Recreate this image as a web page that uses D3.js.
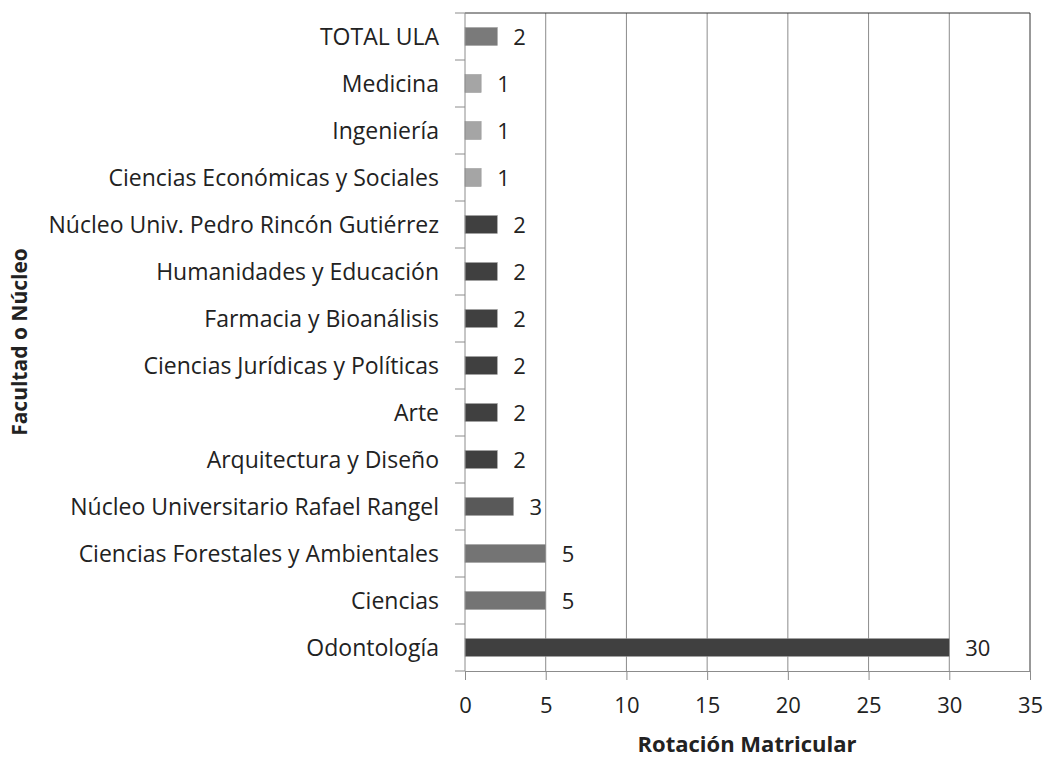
<!DOCTYPE html>
<html>
<head>
<meta charset="utf-8">
<script src="https://cdn.jsdelivr.net/npm/d3@7"></script>
<style>
  body { margin: 0; background: #fff; }
  text { font-family: "Open Sans", sans-serif; fill: #222; }
</style>
</head>
<body>
<div id="chart"></div>
<script>
// categories top -> bottom
const categories = [
  "TOTAL ULA", "Medicina", "Ingeniería", "Ciencias Económicas y Sociales",
  "Núcleo Univ. Pedro Rincón Gutiérrez", "Humanidades y Educación",
  "Farmacia y Bioanálisis", "Ciencias Jurídicas y Políticas", "Arte",
  "Arquitectura y Diseño", "Núcleo Universitario Rafael Rangel",
  "Ciencias Forestales y Ambientales", "Ciencias", "Odontología"
];
const values = [2, 1, 1, 1, 2, 2, 2, 2, 2, 2, 3, 5, 5, 30];
const barColors = [
  "#7a7a7a", "#a5a5a5", "#a5a5a5", "#a5a5a5",
  "#404040", "#404040", "#404040", "#404040", "#404040", "#404040",
  "#595959", "#747474", "#747474", "#404040"
];
const xTicks = [0, 5, 10, 15, 20, 25, 30, 35];

const data = categories.map((c, i) => ({cat: c, value: values[i], color: barColors[i]}));

const W = 1045, H = 757;
const margin = {top: 13, right: 15, bottom: 86, left: 465};
const width = W - margin.left - margin.right;
const height = H - margin.top - margin.bottom;

const svg = d3.select("#chart").append("svg")
  .attr("width", W).attr("height", H);
const g = svg.append("g")
  .attr("transform", `translate(${margin.left},${margin.top})`);

const x = d3.scaleLinear().domain([0, 35]).range([0, width]);
const y = d3.scaleBand().domain(categories).range([0, height]).paddingInner(0.62).paddingOuter(0.31);
const yBand = d3.scaleBand().domain(categories).range([0, height]);

// gridlines
g.selectAll(".grid").data(xTicks.slice(1, -1)).enter().append("line")
  .attr("x1", d => x(d)).attr("x2", d => x(d))
  .attr("y1", 0).attr("y2", height)
  .attr("stroke", "#8c8c8c").attr("stroke-width", 1);

// frame top/right
g.append("line").attr("x1", 0).attr("x2", width).attr("y1", 0).attr("y2", 0)
  .attr("stroke", "#333").attr("stroke-width", 1);
g.append("line").attr("x1", width).attr("x2", width).attr("y1", 0).attr("y2", height)
  .attr("stroke", "#333").attr("stroke-width", 1);

// bars
g.selectAll(".bar").data(data).enter().append("rect")
  .attr("x", 0)
  .attr("y", d => y(d.cat))
  .attr("width", d => x(d.value))
  .attr("height", y.bandwidth())
  .attr("fill", d => d.color)
  .attr("stroke", "#999").attr("stroke-width", 0.6);

// value labels
g.selectAll(".val").data(data).enter().append("text")
  .attr("x", d => x(d.value) + 16)
  .attr("y", d => y(d.cat) + y.bandwidth() / 2)
  .attr("dy", "0.38em")
  .style("font-size", "22px")
  .text(d => d.value);

// x axis
const xAxis = g.append("g")
  .attr("transform", `translate(0,${height})`)
  .call(d3.axisBottom(x).tickValues(xTicks).tickSize(9).tickPadding(17));
xAxis.select(".domain").attr("stroke", "#8c8c8c");
xAxis.selectAll(".tick line").attr("stroke", "#8c8c8c");
xAxis.selectAll("text").style("font-size", "22px").style("font-family", "'Open Sans', sans-serif").attr("fill", "#222");

// y axis with ticks at band boundaries
const yAxisG = g.append("g");
yAxisG.append("line").attr("x1", 0).attr("x2", 0).attr("y1", 0).attr("y2", height)
  .attr("stroke", "#8c8c8c");
const bounds = categories.map(c => yBand(c)).concat([height]);
yAxisG.selectAll(".ytick").data(bounds).enter().append("line")
  .attr("x1", -10).attr("x2", 0)
  .attr("y1", d => d).attr("y2", d => d)
  .attr("stroke", "#8c8c8c");
yAxisG.selectAll(".ylab").data(categories).enter().append("text")
  .attr("x", -26)
  .attr("y", d => y(d) + y.bandwidth() / 2)
  .attr("dy", "0.38em")
  .attr("text-anchor", "end")
  .style("font-size", "23px")
  .text(d => d);

// axis titles
svg.append("text")
  .attr("x", 747)
  .attr("y", 752)
  .attr("text-anchor", "middle")
  .style("font-size", "22px").style("font-weight", "bold")
  .text("Rotación Matricular");

svg.append("text")
  .attr("transform", `translate(27,${342}) rotate(-90)`)
  .attr("text-anchor", "middle")
  .style("font-size", "21px").style("font-weight", "bold")
  .text("Facultad o Núcleo");
</script>
</body>
</html>
